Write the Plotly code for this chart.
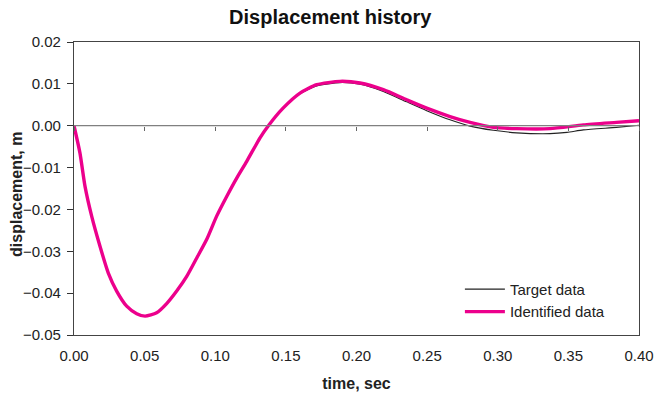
import plotly.graph_objects as go

# Identified data (pink)
t_id = [0.0, 0.0042, 0.0078, 0.0125, 0.0184, 0.0243, 0.0302, 0.0373, 0.0444, 0.0503,
        0.0585, 0.0656, 0.0727, 0.0798, 0.0869, 0.0939, 0.1010, 0.1081, 0.1152, 0.1223,
        0.1317, 0.1376, 0.148, 0.160, 0.1718, 0.1883, 0.2025, 0.219, 0.2355,
        0.2497, 0.2662, 0.2804, 0.2969, 0.3134, 0.337, 0.3606, 0.384, 0.40]
v_id = [0.0, -0.0065, -0.0145, -0.0216, -0.0288, -0.0352, -0.0395, -0.0431, -0.0449, -0.0455,
        -0.0447, -0.0425, -0.0395, -0.0360, -0.0316, -0.0272, -0.0216, -0.0169, -0.0125, -0.0085,
        -0.0029, 0.0000, 0.0042, 0.0078, 0.0098, 0.0106, 0.0102, 0.0086, 0.0062,
        0.0042, 0.0022, 0.0008, -0.0004, -0.0007, -0.0007, 0.0002, 0.0008, 0.0012]

# Target data (black)
t_tg = [0.0, 0.0042, 0.0078, 0.0125, 0.0184, 0.0243, 0.0302, 0.0373, 0.0444, 0.0503,
        0.0585, 0.0656, 0.0727, 0.0798, 0.0869, 0.0939, 0.1010, 0.1081, 0.1152, 0.1223,
        0.1317, 0.1376, 0.148, 0.160, 0.1718, 0.1883, 0.2025, 0.219, 0.2355,
        0.2497, 0.2662, 0.2804, 0.2969, 0.3134, 0.337, 0.349, 0.3606, 0.384, 0.40]
v_tg = [0.0, -0.0065, -0.0145, -0.0216, -0.0288, -0.0352, -0.0395, -0.0431, -0.0449, -0.0455,
        -0.0447, -0.0425, -0.0395, -0.0360, -0.0316, -0.0272, -0.0216, -0.0169, -0.0125, -0.0085,
        -0.0029, 0.0000, 0.0041, 0.0076, 0.0095, 0.0103, 0.0099, 0.0082, 0.0057,
        0.0036, 0.0014, -0.0001, -0.0011, -0.0017, -0.0019, -0.0016, -0.0010, -0.0004, 0.0001]

x_ticks = [0.0, 0.05, 0.10, 0.15, 0.20, 0.25, 0.30, 0.35, 0.40]
y_ticks = [0.02, 0.01, 0.0, -0.01, -0.02, -0.03, -0.04, -0.05]

Y_MIN, Y_MAX = -0.05, 0.02
X_MIN, X_MAX = 0.0, 0.40

font_family = "Liberation Sans, Arial, sans-serif"

fig = go.Figure()
# zero line axis (x2) with ticks, drawn first
fig.add_trace(go.Scatter(x=[X_MIN, X_MAX], y=[0, 0], xaxis="x2", mode="lines",
                         line=dict(color="#808080", width=1.3), showlegend=False,
                         hoverinfo="skip"))
fig.add_trace(go.Scatter(x=t_tg, y=v_tg, mode="lines", name="Target data",
                         legendgroup="a",
                         line=dict(color="#222222", width=1.1, shape="spline", smoothing=0.6)))
fig.add_trace(go.Scatter(x=t_id, y=v_id, mode="lines", name="Identified data",
                         legendgroup="b",
                         line=dict(color="#EC008C", width=3.4, shape="spline", smoothing=0.6)))

zero_pos = (0 - Y_MIN) / (Y_MAX - Y_MIN)

fig.update_layout(
    width=654, height=395,
    margin=dict(l=74, r=15, t=42, b=60, autoexpand=False),
    paper_bgcolor="white", plot_bgcolor="white",
    font=dict(family=font_family, size=15, color="#222"),
    title=dict(text="<b>Displacement history</b>", x=0.505, xanchor="center", y=0.957,
               yanchor="middle", font=dict(size=20, color="#111")),
    xaxis=dict(range=[X_MIN, X_MAX], tickvals=x_ticks, tickformat=".2f",
               showgrid=False, zeroline=False, ticks="", showline=True,
               linecolor="#444", linewidth=1.3, mirror=True, automargin=False,
               ticklabelstandoff=7,
               title=dict(text="<b>time, sec</b>", font=dict(size=16), standoff=14)),
    xaxis2=dict(range=[X_MIN, X_MAX], tickvals=x_ticks, overlaying="x", anchor="free",
                position=zero_pos, side="bottom", showticklabels=False, ticks="outside",
                ticklen=4, tickcolor="#666", showgrid=False, zeroline=False,
                showline=False, automargin=False),
    yaxis=dict(range=[Y_MIN, Y_MAX], tickvals=y_ticks, tickformat=".2f",
               showgrid=False, zeroline=False, ticks="outside", ticklen=6,
               tickcolor="#333", showline=True, linecolor="#444", linewidth=1.3,
               mirror=True, automargin=False, ticklabelstandoff=3),
    annotations=[dict(text="<b>displacement, m</b>", xref="paper", yref="paper",
                      x=-(74 - 17) / 565, y=0.478, xanchor="center", yanchor="middle",
                      textangle=-90, showarrow=False, font=dict(size=16, color="#222"))],
    legend=dict(x=0.683, y=0.212, xanchor="left", yanchor="top", bgcolor="rgba(0,0,0,0)",
                font=dict(size=15), itemwidth=40, tracegroupgap=0),
    showlegend=True,
)

fig.write_html("out.html", config={"displayModeBar": False},
               post_script="document.body.style.margin='0px';")
